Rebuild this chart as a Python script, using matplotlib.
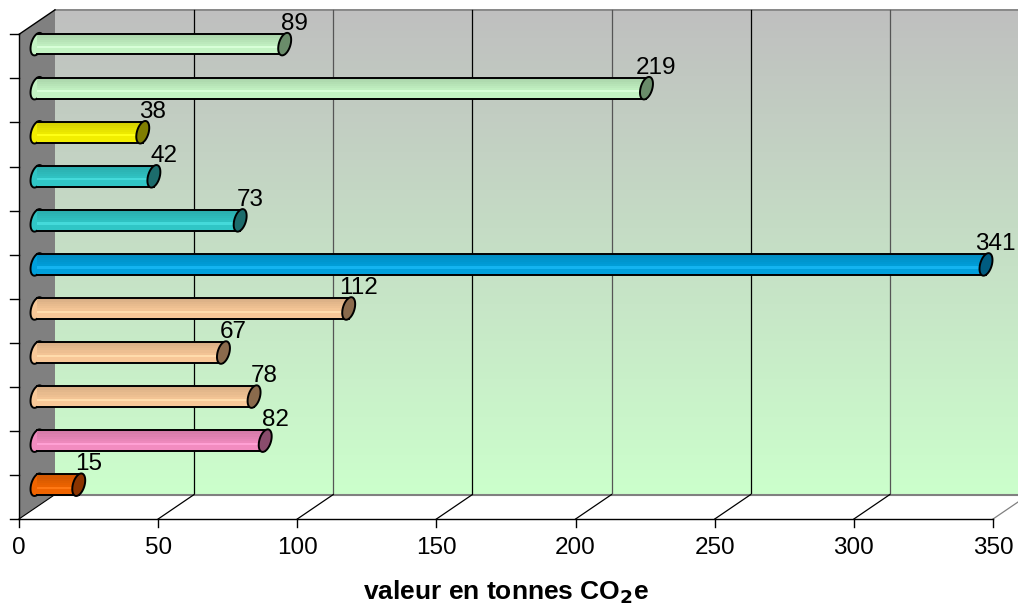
import numpy as np
import matplotlib
matplotlib.use("Agg")
import matplotlib.pyplot as plt
from matplotlib.patches import Polygon

plt.rcParams['font.family'] = ['Liberation Sans', 'DejaVu Sans']

# values listed top to bottom as in the chart
values = [89, 219, 38, 42, 73, 341, 112, 67, 78, 82, 15]
body_colors = ['#c4f4c4', '#c4f4c4', '#f2ee00', '#30c6c6', '#30c6c6', '#00a0dc',
               '#f8c898', '#f8c898', '#f8c898', '#f28cc0', '#f06400']
cap_colors = ['#6a8c6a', '#6a8c6a', '#807e00', '#1c6c6c', '#1c6c6c', '#005c80',
              '#8a6a4c', '#8a6a4c', '#8a6a4c', '#8a4c6c', '#8a3400']
xticks = [0, 50, 100, 150, 200, 250, 300, 350]
xlabel = 'valeur en tonnes CO$_\\mathbf{2}$e'

n = len(values)
xmax = 350
S = 2.783          # px per value unit
R = 44.06          # px per category
dx = 36 / S        # depth offset in data units
dy = 24.5 / R

fig = plt.figure(figsize=(10.18, 6.05), dpi=100)
ax = fig.add_axes([0, 0, 1, 1])
ax.set_xlim(-19 / S, (1018 - 19) / S)
ax.set_ylim(-(605 - 519) / R, 519 / R)
ax.axis('off')

# back wall gradient
top = np.array([0.75, 0.75, 0.75])
bot = np.array([0.80, 1.0, 0.80])
t = np.linspace(0, 1, 256)[:, None]
grad = (top * (1 - t) + bot * t)[:, None, :]
ax.imshow(grad, extent=[dx, xmax + dx, dy, n + dy], origin='upper',
          aspect='auto', zorder=0)
ax.plot([dx, xmax + dx + 20], [n + dy, n + dy], color='#808080', lw=1.2, zorder=1)

# gridlines on the wall and on the floor
for i, xt in enumerate(xticks[1:]):
    c = 'black' if i % 2 == 0 else '#555555'
    ax.plot([xt + dx, xt + dx], [dy, n + dy], color=c, lw=0.9, zorder=1)

# floor
ax.add_patch(Polygon([(0, 0), (xmax, 0), (xmax + dx, dy), (dx, dy)],
                     closed=True, facecolor='white', edgecolor='none', zorder=1))
ax.plot([dx, xmax + dx], [dy, dy], color='#808080', lw=1.5, zorder=2)
for xt in xticks[1:]:
    c = '#808080' if xt == xmax else 'black'
    ax.plot([xt, xt + dx], [0, dy], color=c, lw=0.9, zorder=2)

# left wall
ax.add_patch(Polygon([(0, 0), (dx, dy), (dx, n + dy), (0, n)], closed=True,
                     facecolor='#808080', edgecolor='none', zorder=2))
ax.plot([0, dx], [n, n + dy], color='black', lw=1, zorder=3)
ax.plot([0, dx], [0, dy], color='black', lw=0.8, zorder=3)

# axes lines and ticks
ax.plot([0, xmax], [0, 0], color='black', lw=1, zorder=3)
ax.plot([0, 0], [0, n], color='black', lw=1, zorder=3)
for xt in xticks:
    ax.plot([xt, xt], [0, -8 / R], color='black', lw=1, zorder=3)
    ax.text(xt, -29 / R, str(xt), ha='center', va='center', fontsize=17.5)
for k in range(n + 1):
    ax.plot([0, -9 / S], [k, k], color='black', lw=1, zorder=3)

ax.text(xmax / 2, -73 / R, xlabel, ha='center', va='center',
        fontsize=19, fontweight='bold')

# cylinders
rad = 0.235
kd = 0.18
x0 = dx * 0.5
th = np.linspace(0, 2 * np.pi, 80)


def ellipse(xc, yc):
    return np.column_stack([xc + kd * dx * np.sin(th),
                            yc + rad * np.cos(th) + kd * dy * np.sin(th)])


nstrip = 10
for j, v in enumerate(values):
    yc = (n - 1 - j) + 0.5 + dy * 0.5
    base = np.array(matplotlib.colors.to_rgb(body_colors[j]))
    z = 5
    ax.add_patch(Polygon(ellipse(x0, yc), closed=True, facecolor=base,
                         edgecolor='black', lw=1.4, zorder=z))
    hh = rad
    edges = np.linspace(yc - hh, yc + hh, nstrip + 1)
    for s in range(nstrip):
        u = (s + 0.5) / nstrip        # 0 bottom, 1 top
        shade = 1.0 - 0.14 * max(0, u - 0.35) / 0.65
        if 0.25 < u < 0.45:
            col = np.clip(base * 1.0 + 0.08, 0, 1)
        else:
            col = np.clip(base * shade, 0, 1)
        ax.barh(edges[s], v, height=edges[s + 1] - edges[s], left=x0,
                align='edge', color=col, edgecolor='none', zorder=z + 1)
    ax.plot([x0, x0 + v], [yc + hh, yc + hh], color='black', lw=1.4, zorder=z + 2)
    ax.plot([x0, x0 + v], [yc - hh, yc - hh], color='black', lw=1.4, zorder=z + 2)
    ax.add_patch(Polygon(ellipse(x0 + v, yc), closed=True, facecolor=cap_colors[j],
                         edgecolor='black', lw=1.4, zorder=z + 3))
    ax.text(x0 + v + 3.5, yc + hh - 1 / R, str(v), ha='center', va='bottom',
            fontsize=17.5, zorder=z + 4)

fig.savefig('out.png', dpi=100)
